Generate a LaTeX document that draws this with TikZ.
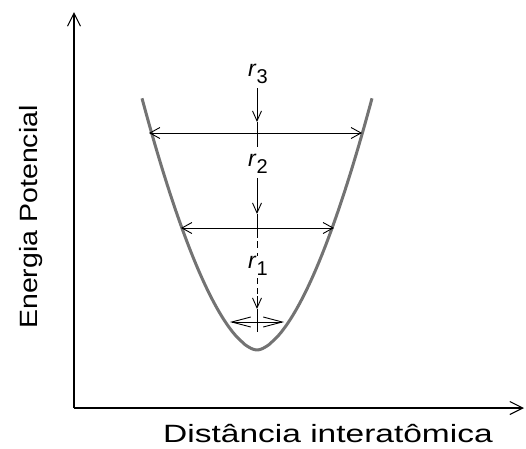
\documentclass[tikz,border=0pt]{standalone}
\usepackage{fontspec}
\usepackage{graphicx}
\setmainfont{Liberation Sans}
\usetikzlibrary{arrows.meta}
\begin{document}
\begin{tikzpicture}[x=1pt,y=-1pt,
  axis/.style={line width=1.1pt,-{Straight Barb[length=13pt,width=13pt,line width=1.1pt]}},
  lvl/.style={line width=0.9pt,{Straight Barb[length=10pt,width=11pt]}-{Straight Barb[length=10pt,width=11pt]}},
  stem/.style={line width=0.9pt},
  downtip/.style={line width=0.9pt,-{Straight Barb[length=10pt,width=9pt]}},
  rlab/.style={inner sep=0pt,font=\fontsize{23}{24}\selectfont},
  sub/.style={},
  axlab/.style={inner sep=0pt,font=\fontsize{25}{28}\selectfont},
  curve/.style={line width=3pt,draw=black!55}]
\useasboundingbox (0,0) rectangle (526,448);
% axes
\coordinate (O) at (74,408);
\coordinate (ytop) at (74,12);
\coordinate (xend) at (524,408);
\draw[axis] (O) -- (ytop);
\draw[axis] (O) -- (xend);
\node[axlab,rotate=90] (ylab) at (31,217) {\scalebox{1.14}[1]{Energia Potencial}};
\node[axlab] (xlab) at (328,434) {\scalebox{1.34}[1]{Distância interatômica}};
% curve
\draw[curve] plot[domain=-115:115, samples=100, smooth] ({257+\x},{350-248*((abs(\x)+0.001)/114)^1.7});
% levels
\coordinate (l3a) at (149,133); \coordinate (l3b) at (362,133);
\coordinate (l2a) at (181,228); \coordinate (l2b) at (334,228);
\coordinate (l1a) at (230,322); \coordinate (l1b) at (284,322);
\draw[lvl] (l3a) -- (l3b);
\draw[lvl] (l2a) -- (l2b);
\draw[line width=0.9pt,{Straight Barb[length=19pt,width=10pt]}-{Straight Barb[length=19pt,width=10pt]}] (l1a) -- (l1b);
% labels
\node[rlab] (r3) at (258,74) {\textit{r}\raisebox{-0.28em}{\fontsize{20}{21}\selectfont 3}};
\node[rlab] (r2) at (258,164) {\textit{r}\raisebox{-0.28em}{\fontsize{20}{21}\selectfont 2}};
\node[rlab] (r1) at (258,266) {\textit{r}\raisebox{-0.28em}{\fontsize{20}{21}\selectfont 1}};
% vertical marks
\coordinate (s3) at (257,88); \coordinate (t3) at (257,122); \coordinate (e3) at (257,147);
\coordinate (s2) at (257,178); \coordinate (t2) at (257,214); \coordinate (e2) at (257,238);
\coordinate (d1) at (257,241); \coordinate (d2) at (257,256);
\coordinate (s1) at (257,278); \coordinate (m1) at (257,296); \coordinate (t1) at (257,309); \coordinate (e1) at (257,332);
\draw[downtip] (s3) -- (t3); \draw[stem] (t3) -- (e3);
\draw[downtip] (s2) -- (t2); \draw[stem] (t2) -- (e2);
\draw[stem,dash pattern=on 7pt off 5pt] (d1) -- (d2);
\draw[stem,dash pattern=on 6pt off 4pt] (s1) -- (m1);
\draw[downtip] (m1) -- (t1); \draw[stem] (t1) -- (e1);
\end{tikzpicture}
\end{document}
